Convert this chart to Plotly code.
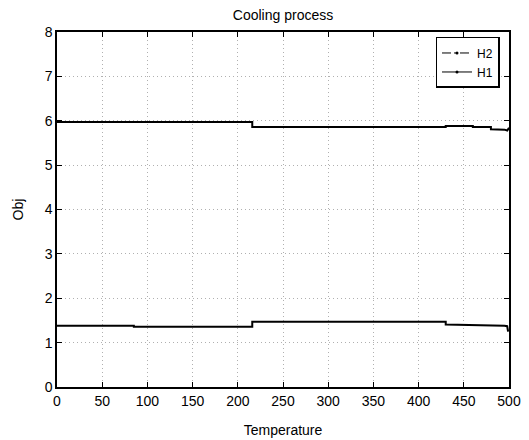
import plotly.graph_objects as go

# Data
h2_x = [0, 216, 216, 430, 430, 460, 460, 480, 480, 495, 498, 499, 500]
h2_y = [5.97, 5.97, 5.86, 5.86, 5.88, 5.88, 5.86, 5.86, 5.81, 5.80, 5.78, 5.80, 5.84]
h1_x = [0, 85, 85, 216, 216, 430, 430, 460, 495, 498, 499]
h1_y = [1.38, 1.38, 1.36, 1.36, 1.47, 1.47, 1.41, 1.40, 1.38, 1.37, 1.25]

x_ticks = list(range(0, 501, 50))
y_ticks = list(range(0, 9))

fam = "Liberation Sans, Arial, sans-serif"
font = dict(family=fam, size=14, color="black")

fig = go.Figure()
fig.add_trace(go.Scatter(x=h2_x, y=h2_y, mode="lines", line=dict(color="black", width=2),
                         showlegend=False))
fig.add_trace(go.Scatter(x=h1_x, y=h1_y, mode="lines", line=dict(color="black", width=2),
                         showlegend=False))
# legend entries
fig.add_trace(go.Scatter(x=[None], y=[None], mode="lines+markers", name="H2",
                         line=dict(color="black", width=1, dash="dashdot"),
                         marker=dict(size=3, color="black")))
fig.add_trace(go.Scatter(x=[None], y=[None], mode="lines+markers", name="H1",
                         line=dict(color="black", width=1),
                         marker=dict(size=3, color="black")))

axis_common = dict(showline=True, linecolor="black", linewidth=1.5, mirror="ticks",
                   ticks="inside", ticklen=5, tickcolor="black",
                   showgrid=True, gridcolor="#b0b0b0", griddash="1px,3px", gridwidth=1,
                   zeroline=False, tickfont=font, automargin=False)

fig.update_layout(
    width=529, height=440,
    paper_bgcolor="white", plot_bgcolor="white",
    font=font,
    margin=dict(l=57, r=20, t=32, b=53),
    title=dict(text="Cooling process", x=0.535, xanchor="center", y=0.965, yanchor="middle",
               font=dict(size=14, family=fam, color="black")),
    xaxis=dict(range=[0, 500], tickvals=x_ticks,
               title=dict(text="Temperature", standoff=18, font=dict(size=14, family=fam, color="black")),
               **axis_common),
    yaxis=dict(range=[0, 8], tickvals=y_ticks,
               title=dict(text="Obj", standoff=18, font=dict(size=14, family=fam, color="black")),
               **axis_common),
    legend=dict(x=0.979, y=0.986, xanchor="right", yanchor="top",
                bgcolor="white", bordercolor="black", borderwidth=1.5,
                font=dict(size=12, family=fam, color="black"),
                tracegroupgap=0, itemwidth=30),
)

fig.write_html("out.html")
